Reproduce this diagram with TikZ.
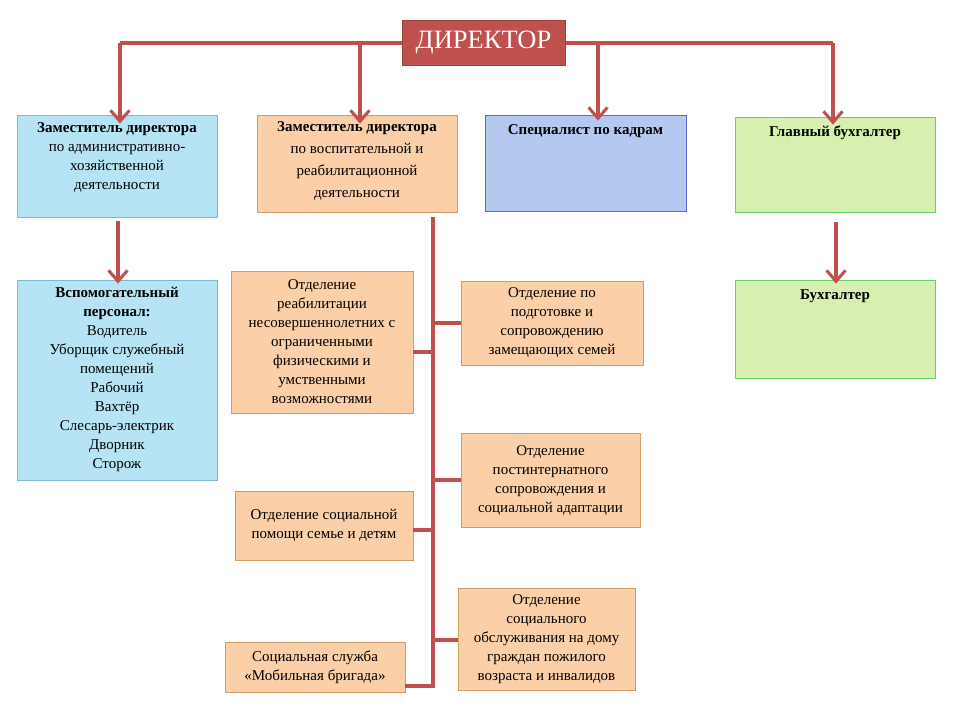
\documentclass[tikz,border=0pt]{standalone}
\usepackage{fontspec}
\setmainfont{Liberation Serif}
\usetikzlibrary{arrows.meta}
\definecolor{lin}{HTML}{C0504D}
\definecolor{bluef}{HTML}{B7E4F4}
\definecolor{bluef2}{HTML}{B4C8F0}
\definecolor{orf}{HTML}{FBCFA8}
\definecolor{grf}{HTML}{D7F0B0}
\tikzset{
 box/.style={draw=#1!70!black!60, line width=0.8pt, inner sep=3pt, align=center, anchor=north west},
 ft/.style={font=\fontsize{15}{#1}\selectfont},
 conn/.style={draw=lin, line width=3.2pt},
 arr/.style={conn, -{Straight Barb[length=11pt,width=19pt,line width=3pt]}},
}
\begin{document}
\begin{tikzpicture}[x=1pt,y=-1pt]
\useasboundingbox (0,0) rectangle (960,720);
\node[draw=lin!80!black, fill=lin, line width=1pt, minimum width=163pt, minimum height=45pt, text=white, font=\fontsize{26.5}{28}\selectfont] (dir) at (483.5,42.5) {ДИРЕКТОР};
\coordinate (l1) at (120,43); \coordinate (l2) at (360,43);
\coordinate (r1) at (598,43); \coordinate (r2) at (833,43);
\draw[conn] (dir.west |- l1) -- (l1);
\draw[conn] (dir.east |- r2) -- (r2);
% boxes
\node[box=cyan, fill=bluef, minimum width=200pt, minimum height=102pt, anchor=center] (b1) at (117,166) {};
\node[ft=19, align=center, anchor=north] at (117,119) {\textbf{Заместитель директора}\\по административно-\\хозяйственной\\деятельности};
\node[box=orange, fill=orf, minimum width=200pt, minimum height=97pt, anchor=center] (b2) at (357,163.5) {};
\node[ft=22, align=center, anchor=north] at (357,118) {\textbf{Заместитель директора}\\по воспитательной и\\реабилитационной\\деятельности};
\node[box=blue, fill=bluef2, minimum width=201pt, minimum height=96pt, anchor=center] (b3) at (585.5,163) {};
\node[ft=19, anchor=north] at (585.5,121) {\textbf{Специалист по кадрам}};
\node[box=green, fill=grf, minimum width=200pt, minimum height=95pt, anchor=center] (b4) at (835,164.5) {};
\node[ft=19, anchor=north] at (835,122) {\textbf{Главный бухгалтер}};
\draw[arr] (l1) -- ([yshift=-9pt]l1 |- b1.north);
\draw[arr] (l2) -- ([yshift=-9pt]l2 |- b2.north);
\draw[arr] (r1) -- ([yshift=-6pt]r1 |- b3.north);
\draw[arr] (r2) -- ([yshift=-8pt]r2 |- b4.north);
\node[box=cyan, fill=bluef, minimum width=200pt, minimum height=200pt, anchor=center] (b5) at (117,380) {};
\node[ft=19, align=center, anchor=north] at (117,284) {\textbf{Вспомогательный}\\\textbf{персонал:}\\Водитель\\Уборщик служебный\\помещений\\Рабочий\\Вахтёр\\Слесарь-электрик\\Дворник\\Сторож};
\draw[arr] (b1.south -| 118,0) ++(0,4) -- ([yshift=-4pt]b5.north -| 118,0);
\node[box=green, fill=grf, minimum width=200pt, minimum height=98pt, anchor=center] (b6) at (835,329) {};
\node[ft=19, anchor=north] at (835,286) {\textbf{Бухгалтер}};
\draw[arr] (836,222) -- ([yshift=-4pt]b6.north -| 836,0);
% departments
\coordinate (vt) at (433,217); \coordinate (vb) at (433,688);
\draw[conn] (vt) -- (vb);
\node[box=orange, fill=orf, minimum width=182pt, minimum height=142pt, anchor=center, ft=19] (d1) at (322,342) {Отделение\\реабилитации\\несовершеннолетних с\\ограниченными\\физическими и\\умственными\\возможностями};
\node[box=orange, fill=orf, minimum width=182pt, minimum height=84pt, anchor=center, ft=19] (d2) at (552,323) {Отделение по\\подготовке и\\сопровождению\\замещающих  семей};
\node[box=orange, fill=orf, minimum width=179pt, minimum height=94pt, anchor=center, ft=19] (d3) at (550.5,480) {Отделение\\постинтернатного\\сопровождения и\\социальной адаптации};
\node[box=orange, fill=orf, minimum width=178pt, minimum height=69pt, anchor=center, ft=19] (d4) at (324,525.5) {Отделение социальной\\помощи семье и детям};
\node[box=orange, fill=orf, minimum width=177pt, minimum height=102pt, anchor=center, ft=19] (d5) at (546.5,639) {Отделение\\социального\\обслуживания на дому\\граждан пожилого\\возраста и инвалидов};
\node[box=orange, fill=orf, minimum width=180pt, minimum height=50pt, anchor=center, ft=19] (d6) at (315,667) {Социальная служба\\«Мобильная бригада»};
\draw[conn] (d1.east |- 0,352) -- (433,352);
\draw[conn] (433,323) -- (d2.west |- 0,323);
\draw[conn] (433,480) -- (d3.west |- 0,480);
\draw[conn] (d4.east |- 0,530) -- (433,530);
\draw[conn] (433,640) -- (d5.west |- 0,640);
\draw[conn] (d6.east |- 0,686) -- (433,686);
\end{tikzpicture}
\end{document}
